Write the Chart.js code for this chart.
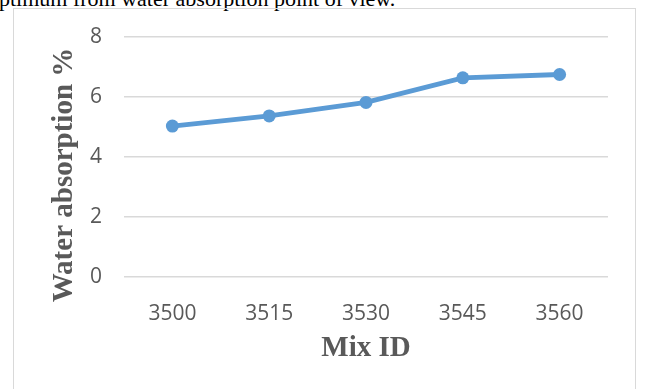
<!DOCTYPE html>
<html>
<head>
<meta charset="utf-8">
<script src="https://cdn.jsdelivr.net/npm/chart.js@4/dist/chart.umd.min.js"></script>
<style>
  html, body { margin: 0; padding: 0; background: #ffffff; overflow: hidden; }
  #wrap { position: relative; width: 648px; height: 389px; overflow: hidden; }
  #caption {
    position: absolute; left: -1px; top: -12px;
    font-family: "Liberation Serif", "Times New Roman", serif;
    font-size: 22px; line-height: 22px; color: #000; white-space: nowrap;
  }
  #frame {
    position: absolute; left: 13px; top: 8px; width: 623px; height: 420px;
    border: 1px solid #d9d9d9; box-sizing: border-box;
  }
  #chart { position: absolute; left: 0; top: 0; }
</style>
</head>
<body>
<div id="wrap">
  <div id="caption">ptimum from water absorption point of view.</div>
  <div id="frame"></div>
  <canvas id="chart" width="648" height="389"></canvas>
</div>
<script>
// Mix identifiers along the x axis
const mixIds = ['3500', '3515', '3530', '3545', '3560'];
// Water absorption (%) for each mix
const waterAbsorption = [5.03, 5.37, 5.82, 6.64, 6.75];
// Value axis range and step
const yMin = 0;
const yMax = 8;
const yStep = 2;
const xTitleText = 'Mix ID';
const yTitleText = 'Water absorption %';

const lineBlue = '#5B9BD5';
const textGray = '#595959';
const gridGray = '#D9D9D9';

// Vertical value-axis title, drawn beside the tick labels
const yTitlePlugin = {
  id: 'yTitle',
  afterDraw(chart) {
    const ctx = chart.ctx;
    const area = chart.chartArea;
    ctx.save();
    ctx.translate(65, (area.top + area.bottom) / 2 + 18);
    ctx.rotate(-Math.PI / 2);
    ctx.font = 'bold 29px "Liberation Serif", "Times New Roman", serif';
    ctx.fillStyle = textGray;
    ctx.textAlign = 'center';
    ctx.textBaseline = 'middle';
    ctx.fillText(yTitleText, 0, 0);
    ctx.restore();
  }
};

new Chart(document.getElementById('chart'), {
  type: 'line',
  data: {
    labels: mixIds,
    datasets: [{
      data: waterAbsorption,
      borderColor: lineBlue,
      backgroundColor: lineBlue,
      borderWidth: 4.8,
      pointRadius: 6.5,
      pointHoverRadius: 6.5,
      pointBackgroundColor: lineBlue,
      pointBorderWidth: 0,
      tension: 0,
      fill: false
    }]
  },
  options: {
    responsive: false,
    devicePixelRatio: 1,
    animation: false,
    layout: { padding: { top: 37, right: 40, bottom: 0, left: 0 } },
    plugins: {
      legend: { display: false },
      tooltip: { enabled: false }
    },
    scales: {
      x: {
        type: 'category',
        offset: true,
        grid: { display: false, drawTicks: false },
        border: { display: false },
        ticks: {
          color: textGray,
          padding: 24,
          font: { family: '"Open Sans", sans-serif', size: 21 }
        },
        title: {
          display: true,
          text: xTitleText,
          color: textGray,
          padding: { top: 0, bottom: 23 },
          font: { family: '"Liberation Serif", "Times New Roman", serif', size: 29, weight: 'bold' }
        },
        afterFit(scale) { scale.height = 112; }
      },
      y: {
        min: yMin,
        max: yMax,
        grid: { color: gridGray, lineWidth: 1.4, drawTicks: false },
        border: { display: false },
        ticks: {
          stepSize: yStep,
          color: textGray,
          padding: 22,
          font: { family: '"Open Sans", sans-serif', size: 21 }
        },
        afterFit(scale) { scale.width = 124; }
      }
    }
  },
  plugins: [yTitlePlugin]
});
</script>
</body>
</html>
